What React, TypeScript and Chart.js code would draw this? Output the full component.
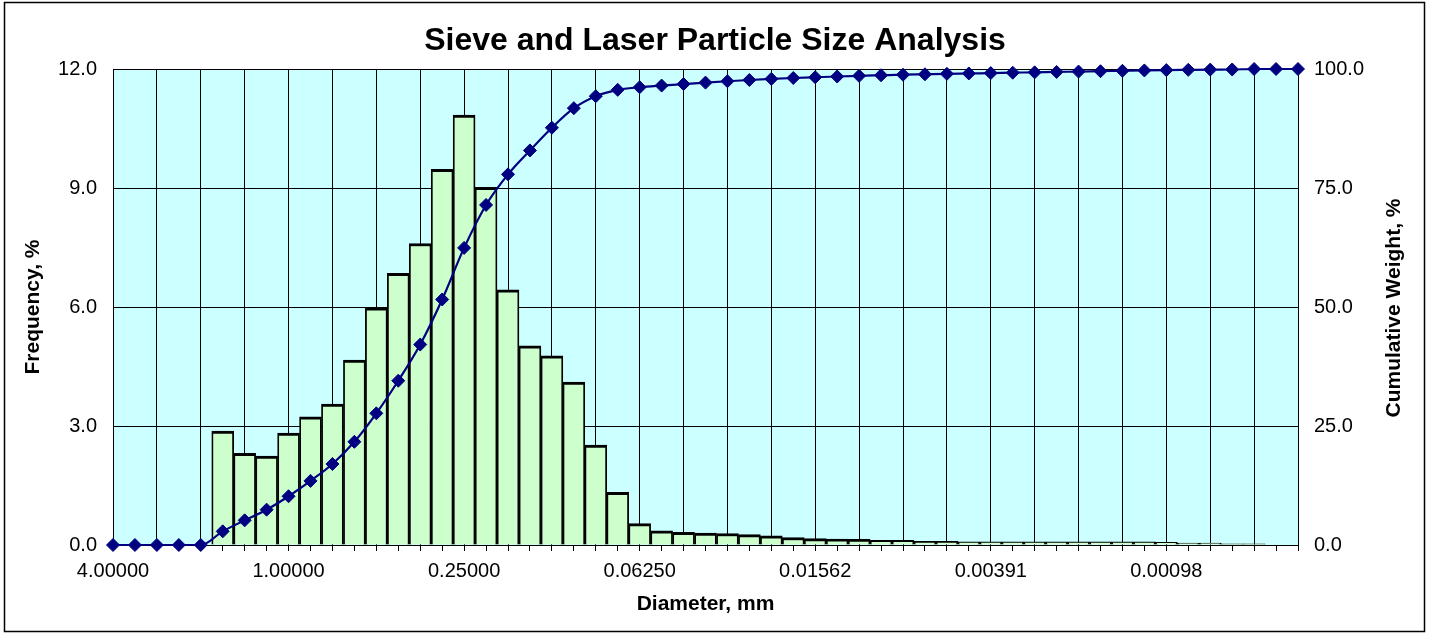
import React, { useEffect, useRef } from "react";
import { Chart, registerables } from "chart.js";

Chart.register(...registerables);

// Phi class positions (diameter = 2^-phi mm), one per quarter-phi step
const phiClass = [
  -2, -1.75, -1.5, -1.25, -1, -0.75, -0.5, -0.25, 0, 0.25, 0.5, 0.75, 1, 1.25,
  1.5, 1.75, 2, 2.25, 2.5, 2.75, 3, 3.25, 3.5, 3.75, 4, 4.25, 4.5, 4.75, 5,
  5.25, 5.5, 5.75, 6, 6.25, 6.5, 6.75, 7, 7.25, 7.5, 7.75, 8, 8.25, 8.5, 8.75,
  9, 9.25, 9.5, 9.75, 10, 10.25, 10.5, 10.75, 11, 11.25, 11.5,
];

// Frequency per class, %
const frequency = [
  null, null, null, null, null, 2.87, 2.31, 2.24, 2.82, 3.23, 3.55, 4.66, 5.98,
  6.85, 7.6, 9.47, 10.84, 9.02, 6.43, 5.02, 4.77, 4.11, 2.52, 1.33, 0.54, 0.36,
  0.32, 0.3, 0.29, 0.26, 0.23, 0.19, 0.16, 0.15, 0.14, 0.12, 0.12, 0.09, 0.09,
  0.08, 0.08, 0.08, 0.08, 0.08, 0.08, 0.08, 0.08, 0.08, 0.07, 0.05, 0.05, 0.03,
  0.03, null, null,
];

// Cumulative weight passing, %
const cumulative = [
  0, 0, 0, 0, 0, 2.87, 5.18, 7.42, 10.24, 13.47, 17.02, 21.68, 27.66, 34.51,
  42.11, 51.58, 62.42, 71.44, 77.87, 82.89, 87.66, 91.77, 94.29, 95.62, 96.16,
  96.52, 96.84, 97.14, 97.43, 97.69, 97.92, 98.11, 98.27, 98.42, 98.56, 98.68,
  98.8, 98.89, 98.98, 99.06, 99.14, 99.22, 99.3, 99.38, 99.46, 99.54, 99.62,
  99.7, 99.77, 99.82, 99.87, 99.9, 100, 100, 100,
];

// Labelled diameters on the bottom axis
const diameterTickPhi = [-2, 0, 2, 4, 6, 8, 10];
const diameterTickLabels = [
  "4.00000",
  "1.00000",
  "0.25000",
  "0.06250",
  "0.01562",
  "0.00391",
  "0.00098",
];

const W = 1430;
const H = 634;
const FONT = "'Liberation Sans', Arial, Helvetica, sans-serif";

export default function App() {
  const canvasRef = useRef<HTMLCanvasElement>(null);

  useEffect(() => {
    const canvas = canvasRef.current;
    if (!canvas) return;
    Chart.defaults.font.family = FONT;
    Chart.defaults.color = "#000";

    const plotBackground = {
      id: "plotBackground",
      beforeDraw(chart: any) {
        const { ctx, chartArea: a } = chart;
        ctx.save();
        ctx.fillStyle = "#CCFFFF";
        ctx.fillRect(a.left, a.top, a.right - a.left, a.bottom - a.top);
        ctx.restore();
      },
    };

    const frameAndRightTitle = {
      id: "frameAndRightTitle",
      afterDraw(chart: any) {
        const { ctx } = chart;
        ctx.save();
        ctx.strokeStyle = "#000";
        ctx.lineWidth = 1.5;
        ctx.strokeRect(4.5, 2.5, 1420, 629);
        ctx.translate(1394, 308);
        ctx.rotate(-Math.PI / 2);
        ctx.fillStyle = "#000";
        ctx.font = `bold 21px ${FONT}`;
        ctx.textAlign = "center";
        ctx.textBaseline = "middle";
        ctx.fillText("Cumulative Weight, %", 0, 0);
        ctx.restore();
      },
    };

    const chart = new Chart(canvas, {
      type: "bar",
      data: {
        datasets: [
          {
            type: "line",
            label: "Cumulative Weight, %",
            data: phiClass.map((x, i) => ({ x, y: cumulative[i] })),
            yAxisID: "y1",
            borderColor: "#000080",
            backgroundColor: "#000080",
            borderWidth: 2.2,
            pointStyle: "rectRot",
            pointRadius: 6.5,
            pointBorderWidth: 1,
            pointBackgroundColor: "#000080",
            pointBorderColor: "#000080",
            cubicInterpolationMode: "monotone",
            clip: false,
            order: 0,
          } as any,
          {
            type: "bar",
            label: "Frequency, %",
            data: phiClass.map((x, i) => ({ x, y: frequency[i] })),
            yAxisID: "y",
            backgroundColor: "#CCFFCC",
            borderColor: "#000",
            borderWidth: { top: 3, left: 1.8, right: 1.8, bottom: 0 },
            barPercentage: 1,
            categoryPercentage: 1,
            order: 1,
          } as any,
        ],
      },
      options: {
        responsive: false,
        animation: false,
        devicePixelRatio: 1,
        layout: { padding: 0 },
        plugins: {
          legend: { display: false },
          tooltip: { enabled: false },
          title: {
            display: true,
            text: "Sieve and Laser Particle Size Analysis",
            color: "#000",
            font: { size: 32, weight: "bold" },
            padding: { top: 22, bottom: 8.6 },
          },
        },
        scales: {
          x: {
            type: "linear",
            min: -2,
            max: 11.5,
            offset: false,
            afterBuildTicks: (s: any) => {
              s.ticks = phiClass.map((v) => ({ value: v }));
            },
            afterFit: (s: any) => {
              s.height = 89;
            },
            grid: {
              offset: false,
              color: (c: any) =>
                c.tick && c.tick.value % 0.5 === 0 ? "#000" : "rgba(0,0,0,0)",
              tickColor: "#000",
              tickLength: 6,
              lineWidth: 1,
            },
            border: { display: true, color: "#000", width: 1 },
            ticks: {
              autoSkip: false,
              maxRotation: 0,
              minRotation: 0,
              padding: 8,
              color: "#000",
              font: { size: 20 },
              callback: (v: any) => {
                const k = diameterTickPhi.indexOf(Number(v));
                return k >= 0 ? diameterTickLabels[k] : "";
              },
            },
            title: {
              display: true,
              text: "Diameter, mm",
              color: "#000",
              font: { size: 21, weight: "bold" },
              padding: { top: 0, bottom: 17.4 },
            },
          } as any,
          y: {
            position: "left",
            min: 0,
            max: 12,
            afterFit: (s: any) => {
              s.width = 113;
            },
            grid: { color: "#000", lineWidth: 1, drawTicks: false },
            border: { display: true, color: "#000", width: 1 },
            ticks: {
              stepSize: 3,
              padding: 16,
              color: "#000",
              font: { size: 20 },
              callback: (v: any) => Number(v).toFixed(1),
            },
            title: {
              display: true,
              text: "Frequency, %",
              color: "#000",
              font: { size: 21, weight: "bold" },
              padding: { top: 20.4, bottom: 0 },
            },
          } as any,
          y1: {
            position: "right",
            min: 0,
            max: 100,
            afterFit: (s: any) => {
              s.width = 132;
            },
            grid: { drawOnChartArea: false, drawTicks: false },
            border: { display: false },
            ticks: {
              stepSize: 25,
              padding: 16,
              color: "#000",
              font: { size: 20 },
              callback: (v: any) => Number(v).toFixed(1),
            },
          } as any,
        },
      },
      plugins: [plotBackground, frameAndRightTitle],
    });

    return () => chart.destroy();
  }, []);

  return (
    <div
      style={{
        position: "absolute",
        left: 0,
        top: 0,
        width: W,
        height: H,
        background: "#fff",
      }}
    >
      <canvas
        ref={canvasRef}
        width={W}
        height={H}
        style={{ display: "block", width: W, height: H }}
      />
    </div>
  );
}
